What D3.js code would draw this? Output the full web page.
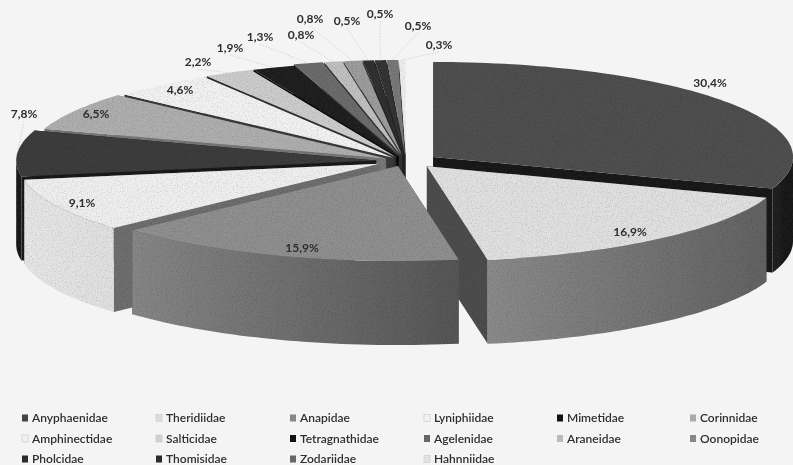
<!DOCTYPE html>
<html>
<head>
<meta charset="utf-8">
<script src="https://d3js.org/d3.v7.min.js"></script>
<style>
  html, body { margin: 0; padding: 0; background: #f4f4f4; }
  svg { display: block; filter: blur(0.5px); }
  text { font-family: Lato, "Open Sans", sans-serif; fill: #2e2e2e; }
</style>
</head>
<body>
<div id="chart"></div>
<script>
// data
var families = ["Anyphaenidae","Theridiidae","Anapidae","Lyniphiidae","Mimetidae","Corinnidae",
  "Amphinectidae","Salticidae","Tetragnathidae","Agelenidae","Araneidae","Oonopidae",
  "Pholcidae","Thomisidae","Zodariidae","Hahnniidae"];
var shares = [30.4,16.9,15.9,9.1,7.8,6.5,4.6,2.2,1.9,1.3,0.8,0.8,0.5,0.5,0.5,0.3];
var shareLabels = ["30,4%","16,9%","15,9%","9,1%","7,8%","6,5%","4,6%","2,2%","1,9%","1,3%",
  "0,8%","0,8%","0,5%","0,5%","0,5%","0,3%"];

// per slice look
var explode = [.092,.09,.07,.083,.083,.064,.056,.06,.06,.08,.08,.08,.08,.08,.08,.08];
var topCol = ["#505050","#e0e0e0","#8f8f8f","#efefef","#3c3c3c","#aeaeae","#f2f2f2","#cccccc",
  "#242424","#6c6c6c","#c0c0c0","#9c9c9c","#303030","#353535","#787878","#eeeeee"];
var wallCol = ["#1c1c1c","#4e4e4e","#555555","#6e6e6e","#1f1f1f","#777777","#3a3a3a","#333333",
  "#111111","#333333","#333333","#333333","#222222","#222222","#2a2a2a","#222222"];
var sideLeft = ["#222222","#8a8a8a","#868686","#e6e6e6","#1d1d1d","#888888","#cccccc","#aaaaaa",
  "#111111","#444444","#999999","#777777","#222222","#222222","#555555","#cccccc"];
var sideRight = ["#1c1c1c","#626262","#565656","#e0e0e0","#1d1d1d","#888888","#cccccc","#aaaaaa",
  "#111111","#444444","#999999","#777777","#222222","#222222","#555555","#cccccc"];
var legendCol = ["#444444","#dddddd","#888888","#f2f2f2","#111111","#aaaaaa","#f2f2f2","#d0d0d0",
  "#111111","#666666","#bbbbbb","#888888","#2a2a2a","#2a2a2a","#666666","#e2e2e2"];

// label centres, placed by hand in the original chart
var labelX = [710,630,302,82,24,96,180,198,230,260,301,310,347,380,418,439];
var labelY = [83,232,248,203,114,114,90,62,48,37,35,19,21,14,26,45];
var hasLeader = [0,0,0,1,1,0,0,1,1,1,1,1,1,1,1,1];

var width = 793, height = 465;
var rx = 360, ry = 95, depth = 84, cx = 406, cy = 161;

var svg = d3.select("#chart").append("svg").attr("width",width).attr("height",height);
var defs = svg.append("defs");

// scan grain
var grain = defs.append("filter").attr("id","grain").attr("x",0).attr("y",0).attr("width",1).attr("height",1);
grain.append("feTurbulence").attr("type","fractalNoise").attr("baseFrequency",0.8).attr("numOctaves",2).attr("seed",4).attr("result","n");
grain.append("feColorMatrix").attr("in","n").attr("type","matrix")
  .attr("values","0 0 0 0 0  0 0 0 0 0  0 0 0 0 0  0 0 0 -0.7 0.38").attr("result","g");
grain.append("feComposite").attr("in","g").attr("in2","SourceAlpha").attr("operator","in").attr("result","gc");
grain.append("feMerge").selectAll("feMergeNode").data(["SourceGraphic","gc"]).join("feMergeNode").attr("in",function(d){return d;});

var x = d3.scaleLinear().domain([-1,1]).range([-rx,rx]);
var y = d3.scaleLinear().domain([-1,1]).range([-ry,ry]);

var arcs = d3.pie().sort(null).value(function(d){return d;})(shares);
arcs.forEach(function(d,i){
  d.i = i;
  d.mid = (d.startAngle+d.endAngle)/2;
  d.tipX = cx + explode[i]*x(Math.sin(d.mid));
  d.tipY = cy - 0.8*explode[i]*y(Math.cos(d.mid));
});

function rim(d,a,drop){ return [d.tipX+x(Math.sin(a)), d.tipY-y(Math.cos(a))+(drop||0)]; }
function angles(a0,a1){
  var n = Math.max(2,Math.ceil((a1-a0)*40));
  return d3.range(n+1).map(function(k){return a0+(a1-a0)*k/n;});
}
var line = d3.line();

// painter's order: back of the pie first
var order = arcs.slice().sort(function(a,b){ return d3.descending(Math.cos(a.mid),Math.cos(b.mid)); });

var pie = svg.append("g").attr("filter","url(#grain)");

order.forEach(function(d){
  var i = d.i, g = pie.append("g").attr("class","slice");
  [d.startAngle,d.endAngle].forEach(function(a){
    var e = rim(d,a);
    g.append("path").attr("fill",wallCol[i])
      .attr("d",line([[d.tipX,d.tipY],e,[e[0],e[1]+depth],[d.tipX,d.tipY+depth]])+"Z");
  });
  // outer wall, front half of the ellipse only
  var a0 = Math.max(d.startAngle,Math.PI/2), a1 = Math.min(d.endAngle,Math.PI*1.5);
  if(a1>a0){
    var grad = defs.append("linearGradient").attr("id","side"+i);
    grad.append("stop").attr("offset",0).attr("stop-color",sideLeft[i]);
    grad.append("stop").attr("offset",1).attr("stop-color",sideRight[i]);
    var upper = angles(a0,a1).map(function(a){return rim(d,a);});
    var lower = angles(a0,a1).reverse().map(function(a){return rim(d,a,depth);});
    g.append("path").attr("fill","url(#side"+i+")").attr("d",line(upper.concat(lower))+"Z");
  }
  var face = [[d.tipX,d.tipY]].concat(angles(d.startAngle,d.endAngle).map(function(a){return rim(d,a);}));
  g.append("path").attr("fill",topCol[i]).attr("d",line(face)+"Z");
});

// leaders
arcs.forEach(function(d,i){
  if(!hasLeader[i]) return;
  var e = rim(d,d.mid);
  svg.append("line").attr("x1",labelX[i]).attr("y1",labelY[i]+(labelY[i]<e[1]?7:-7))
    .attr("x2",e[0]).attr("y2",e[1])
    .attr("stroke","#cdcdcd").attr("stroke-width",0.8).attr("stroke-dasharray","1.5,1.5");
});

// data labels
svg.append("g").selectAll("text").data(shareLabels).join("text")
  .attr("x",function(d,i){return labelX[i];})
  .attr("y",function(d,i){return labelY[i];})
  .attr("dy","0.35em").attr("text-anchor","middle")
  .style("font-size","12px").style("font-weight",700)
  .text(function(d){return d;});

// legend: six columns, three rows
var columns = d3.scaleOrdinal().domain(d3.range(6)).range([32,166,300,434,567,700]);
var rows = d3.scalePoint().domain(d3.range(3)).range([418,459]);
var legend = svg.append("g").selectAll("g").data(families).join("g")
  .attr("transform",function(d,i){return "translate("+columns(i%6)+","+rows(Math.floor(i/6))+")";});
legend.append("rect").attr("x",-10).attr("y",-3.5).attr("width",6).attr("height",7)
  .attr("fill",function(d,i){return legendCol[i];})
  .attr("stroke",function(d,i){return d3.hsl(legendCol[i]).l>0.8?"#cccccc":"none";})
  .attr("stroke-width",0.7);
legend.append("text").attr("dy","0.35em").style("font-size","12px").style("font-weight",600)
  .text(function(d){return d;});
</script>
</body>
</html>
